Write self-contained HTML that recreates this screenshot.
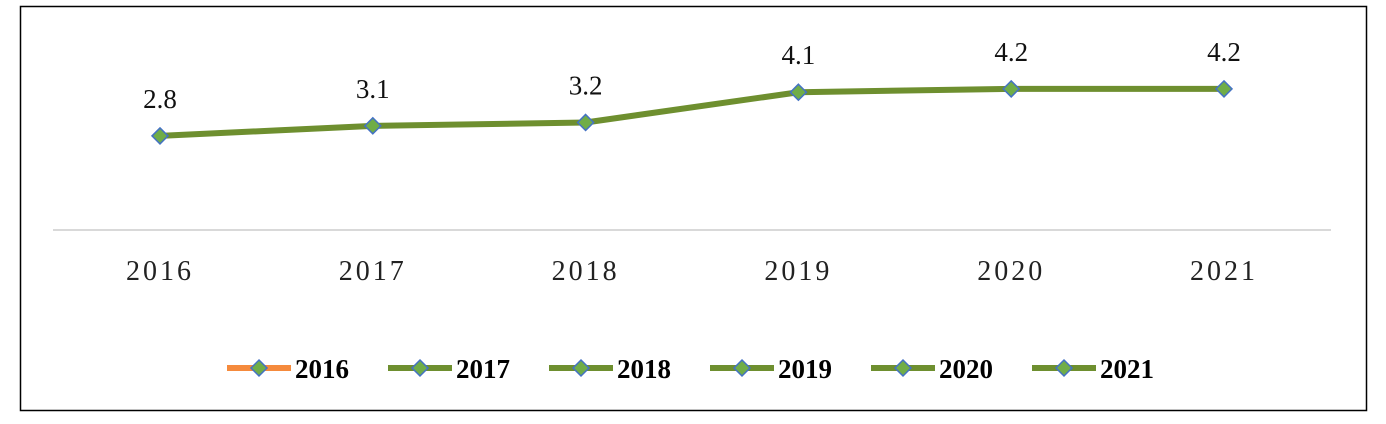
<!DOCTYPE html>
<html><head><meta charset="utf-8"><style>
html,body{margin:0;padding:0;background:#fff;width:1386px;height:424px;overflow:hidden}
svg{display:block}
</style></head><body>
<svg id="chart" width="1386" height="424" font-family="Liberation Serif, serif">
<rect x="20.5" y="6.5" width="1346" height="404" fill="#fff" stroke="#000" stroke-width="1.5"/>
<line x1="53" y1="230" x2="1331" y2="230" stroke="#d9d9d9" stroke-width="2"/>
<g id="xlabels"></g>
<g id="series"></g>
<g id="legend"></g>
</svg>
<script>
const categories = ["2016","2017","2018","2019","2020","2021"];
const values = [2.8, 3.1, 3.2, 4.1, 4.2, 4.2];
const legendLabels = ["2016","2017","2018","2019","2020","2021"];
const legendColors = ["#f58a3c","#6e8f2f","#6e8f2f","#6e8f2f","#6e8f2f","#6e8f2f"];

const NS="http://www.w3.org/2000/svg";
const x = i => 160 + i*212.8;
const y = v => 230 - v*33.6;
function mk(tag, attrs, parent){const e=document.createElementNS(NS,tag);for(const k in attrs)e.setAttribute(k,attrs[k]);parent.appendChild(e);return e;}
function diamond(cx,cy,r,parent){return mk("polygon",{points:`${cx},${cy-r} ${cx+r},${cy} ${cx},${cy+r} ${cx-r},${cy}`,fill:"#70ad47",stroke:"#4472c4","stroke-width":1.5},parent);}

const xl=document.getElementById("xlabels");
categories.forEach((c,i)=>{
  const t=mk("text",{x:x(i),y:280,"text-anchor":"middle","font-size":"28","letter-spacing":"3",fill:"#222"},xl);
  t.textContent=c;
  
  
});

const s=document.getElementById("series");
const line=mk("polyline",{points:values.map((v,i)=>x(i)+","+y(v)).join(" "),fill:"none",stroke:"#6e8f2f","stroke-width":6,"stroke-linejoin":"round"},s);


values.forEach((v,i)=>{
  const d=diamond(x(i),y(v),8,s);
  
  
  const t=mk("text",{x:x(i),y:y(v)-28,"text-anchor":"middle","font-size":"27",fill:"#111"},s);
  t.textContent=v.toFixed(1);
  
  
});

const lg=document.getElementById("legend");
legendLabels.forEach((l,i)=>{
  const lx=227+i*161;
  const g=mk("g",{},lg);
  
  
  mk("line",{x1:lx,y1:368,x2:lx+64,y2:368,stroke:legendColors[i],"stroke-width":6},g);
  diamond(lx+32,368,8,g);
  const t=mk("text",{x:lx+68,y:378,"font-size":"27","font-weight":"bold",fill:"#000"},g);
  t.textContent=l;
});
</script>
</body></html>
